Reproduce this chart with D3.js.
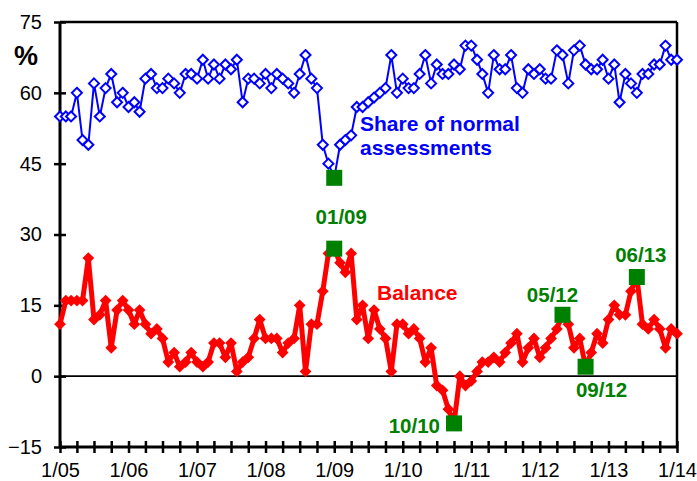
<!DOCTYPE html>
<html>
<head>
<meta charset="utf-8">
<script src="https://cdn.jsdelivr.net/npm/d3@7"></script>
<style>
  html, body { margin: 0; padding: 0; background: #fff; }
  svg { display: block; font-family: "Liberation Sans", Arial, sans-serif; }
</style>
</head>
<body>
<svg id="chart" width="697" height="481"></svg>
<script>
// Monthly observations, January 2005 through January 2014
const startMonth = "2005-01";
const endMonth = "2014-01";

// Share of normal assessments (%)
const normalShare = [
  55, 55, 55, 60, 50, 49, 62, 55, 61, 64, 58, 60,
  57, 58, 56, 63, 64, 61, 61, 63, 62, 60, 64, 64,
  63, 67, 63, 66, 63, 66, 65, 67, 58, 63, 63, 62,
  64, 61, 64, 63, 62, 60, 64, 68, 63, 61, 49, 45,
  42, 49, 50, 51, 57, 57, 58, 59, 60, 61, 68, 60,
  63, 61, 61, 64, 68, 62, 66, 64, 64, 66, 65, 70,
  70, 67, 64, 60, 68, 65, 65, 68, 61, 60, 65, 64,
  65, 63, 63, 69, 68, 62, 69, 70, 66, 65, 65, 67,
  63, 66, 58, 64, 62, 60, 64, 64, 66, 66, 70, 67,
  67
];

// Balance (% points)
const balance = [
  11, 16, 16, 16, 16, 25, 12, 13, 16, 6, 14, 16,
  14, 11, 14, 11, 9, 10, 8, 3, 5, 2, 3, 5,
  3, 2, 3, 7, 7, 4, 7, 1, 3, 4, 8, 12,
  8, 8, 8, 5, 7, 8, 15, 1, 11, 11, 18, 26,
  27, 24, 22, 26, 12, 15, 8, 14, 10, 8, 1, 11,
  11, 9, 10, 8, 3, 6, -2, -3, -7, -10, 0, -2,
  -1, 1, 3, 3, 4, 3, 5, 7, 9, 3, 6, 8,
  4, 6, 8, 10, 13, 11, 6, 8, 2, 5, 9, 7,
  12, 15, 13, 13, 18, 21, 11, 10, 12, 10, 6, 10,
  9
];

// Highlighted months and their labels
const normalHighlights = ["2009-01"];
const balanceHighlights = ["2009-01", "2010-10", "2012-05", "2012-09", "2013-06"];
const highlightLabels = ["01/09", "10/10", "05/12", "09/12", "06/13"];

const yTicks = [-15, 0, 15, 30, 45, 60, 75];

const parseMonth = d3.timeParse("%Y-%m");
const months = d3.timeMonth.range(parseMonth(startMonth), d3.timeMonth.offset(parseMonth(endMonth), 1));

const svg = d3.select("#chart");
const plotLeft = 60, plotRight = 677, plotTop = 22, plotBottom = 447;

const x = d3.scaleTime().domain([parseMonth(startMonth), parseMonth(endMonth)]).range([plotLeft, plotRight]);
const y = d3.scaleLinear().domain([-15, 75]).range([plotBottom, plotTop]);

const blue = "#0000ff", red = "#ff0000", green = "#008000";

// Frame: top and right borders
svg.append("line").attr("x1", plotLeft).attr("x2", plotRight).attr("y1", plotTop).attr("y2", plotTop)
  .attr("stroke", "#000").attr("stroke-width", 2.5);
svg.append("line").attr("x1", plotRight).attr("x2", plotRight).attr("y1", plotTop).attr("y2", plotBottom)
  .attr("stroke", "#000").attr("stroke-width", 2.5);

// Zero line
svg.append("line").attr("x1", plotLeft).attr("x2", plotRight).attr("y1", y(0)).attr("y2", y(0))
  .attr("stroke", "#000").attr("stroke-width", 1.6);

// Y axis
const yAxis = svg.append("g").attr("transform", `translate(${plotLeft},0)`)
  .call(d3.axisLeft(y).tickValues(yTicks).tickSize(6).tickPadding(12).tickFormat(d3.format("d")));
yAxis.select(".domain").attr("stroke", "#000").attr("stroke-width", 3).attr("d", `M0,${plotTop}V${plotBottom}`);
yAxis.selectAll(".tick line").attr("x1", -6).attr("x2", 6).attr("stroke", "#000").attr("stroke-width", 2.5);
yAxis.selectAll(".tick text").attr("font-size", 20).attr("fill", "#000").attr("x", -18)
  .style("font-family", "'Liberation Sans', Arial, sans-serif");

// X axis
const xAxis = svg.append("g").attr("transform", `translate(0,${plotBottom})`)
  .call(d3.axisBottom(x).ticks(d3.timeMonth.every(3)).tickSize(6)
    .tickFormat(d => d.getMonth() === 0 ? d3.timeFormat("%-m/%y")(d) : ""));
xAxis.select(".domain").attr("stroke", "#000").attr("stroke-width", 3).attr("d", `M${plotLeft},0H${plotRight}`);
xAxis.selectAll(".tick line").attr("y1", -6).attr("y2", 6).attr("stroke", "#000").attr("stroke-width", 2.5);
xAxis.selectAll(".tick text").attr("font-size", 20).attr("fill", "#000").attr("y", 16)
  .style("font-family", "'Liberation Sans', Arial, sans-serif");

// Unit label
svg.append("text").attr("x", 14).attr("y", 65).attr("font-size", 27).attr("font-weight", "bold")
  .attr("fill", "#000").text("%");

const normalData = months.map((m, i) => ({ date: m, value: normalShare[i] }));
const balanceData = months.map((m, i) => ({ date: m, value: balance[i] }));

const line = d3.line().x(d => x(d.date)).y(d => y(d.value));
const diamond = (s) => d3.symbol().type(d3.symbolDiamond2).size(s)();

// Share of normal assessments: line with open diamonds
svg.append("path").datum(normalData).attr("d", line)
  .attr("fill", "none").attr("stroke", blue).attr("stroke-width", 2).attr("stroke-linejoin", "round");
svg.append("g").selectAll("path").data(normalData).join("path")
  .attr("transform", d => `translate(${x(d.date)},${y(d.value)})`)
  .attr("d", diamond(64))
  .attr("fill", "#fff").attr("stroke", blue).attr("stroke-width", 2);

// Balance: thick line with filled diamonds
svg.append("path").datum(balanceData).attr("d", line)
  .attr("fill", "none").attr("stroke", red).attr("stroke-width", 5).attr("stroke-linejoin", "round");
svg.append("g").selectAll("path").data(balanceData).join("path")
  .attr("transform", d => `translate(${x(d.date)},${y(d.value)})`)
  .attr("d", diamond(88))
  .attr("fill", red);

// Highlight squares
const findPoint = (data, key) => data.find(d => d3.timeFormat("%Y-%m")(d.date) === key);
const highlights = [
  ...normalHighlights.map(k => findPoint(normalData, k)),
  ...balanceHighlights.map(k => findPoint(balanceData, k))
];
const sq = 16;
svg.append("g").selectAll("rect").data(highlights).join("rect")
  .attr("x", d => x(d.date) - sq / 2).attr("y", d => y(d.value) - sq / 2)
  .attr("width", sq).attr("height", sq).attr("fill", green);

// Highlight labels, placed around the balance squares
const labelOffsets = [
  { dx: 7, dy: -25, anchor: "middle" },
  { dx: -14, dy: 10, anchor: "end" },
  { dx: -10, dy: -13, anchor: "middle" },
  { dx: 16, dy: 30, anchor: "middle" },
  { dx: 4, dy: -15, anchor: "middle" }
];
svg.append("g").selectAll("text").data(balanceHighlights).join("text")
  .attr("x", (k, i) => x(findPoint(balanceData, k).date) + labelOffsets[i].dx)
  .attr("y", (k, i) => y(findPoint(balanceData, k).value) + labelOffsets[i].dy)
  .attr("text-anchor", (k, i) => labelOffsets[i].anchor)
  .attr("font-size", 20.5).attr("font-weight", "bold").attr("fill", green)
  .text((k, i) => highlightLabels[i]);

// Series labels
const blueLabel = svg.append("text").attr("font-size", 21).attr("font-weight", "bold").attr("fill", blue);
blueLabel.append("tspan").attr("x", 360).attr("y", 131).text("Share of normal");
blueLabel.append("tspan").attr("x", 360).attr("y", 155).text("assessments");

svg.append("text").attr("x", 377).attr("y", 300).attr("font-size", 21).attr("font-weight", "bold")
  .attr("fill", red).text("Balance");
</script>
</body>
</html>
